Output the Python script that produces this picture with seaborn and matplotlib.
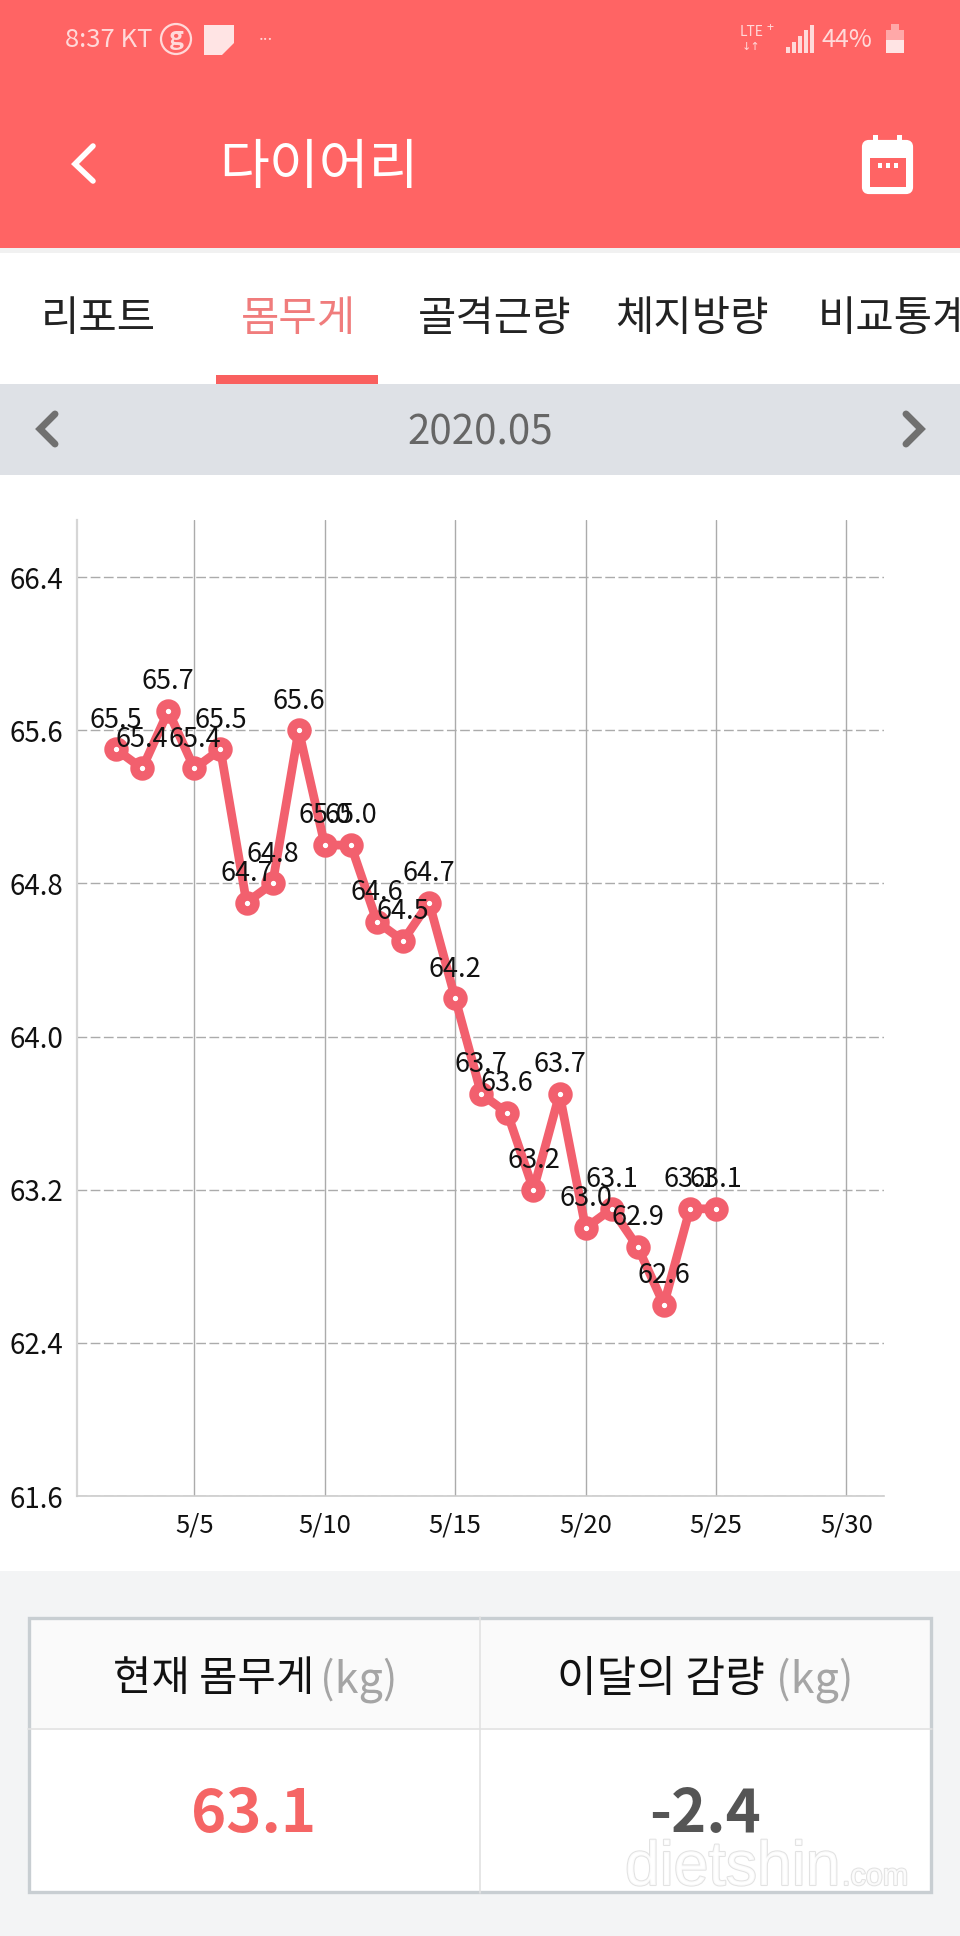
import matplotlib as mpl
mpl.use('Agg')
import matplotlib.pyplot as plt
import matplotlib.patheffects as pe
from matplotlib.patches import Rectangle, FancyBboxPatch, Circle, Polygon
import numpy as np
import pandas as pd
import seaborn as sns

# values
days = list(range(2, 26))
weights = [65.5, 65.4, 65.7, 65.4, 65.5, 64.7, 64.8, 65.6, 65.0, 65.0, 64.6, 64.5,
           64.7, 64.2, 63.7, 63.6, 63.2, 63.7, 63.0, 63.1, 62.9, 62.6, 63.1, 63.1]
y_ticks = [61.6, 62.4, 63.2, 64.0, 64.8, 65.6, 66.4]
x_ticks = [5, 10, 15, 20, 25, 30]
x_tick_labels = ['5/5', '5/10', '5/15', '5/20', '5/25', '5/30']
tabs = ['리포트', '몸무게', '골격근량', '체지방량', '비교통계']
tab_x = [98, 298, 495, 692, 818]

RED = '#FF6464'
LINE = '#F2606E'
W, H = 960, 1936

sns.set_theme(style='white')
plt.rcParams['font.family'] = ['Noto Sans CJK KR', 'DejaVu Sans']

fig = plt.figure(figsize=(W / 100, H / 100), dpi=100, facecolor='white')

# pixel canvas for the app screen around the chart
bg = fig.add_axes([0, 0, 1, 1], zorder=0)
bg.set_xlim(0, W)
bg.set_ylim(H, 0)
bg.axis('off')


def box(x0, y0, x1, y1, color, **kw):
    bg.add_patch(Rectangle((x0, y0), x1 - x0, y1 - y0, facecolor=color, edgecolor='none', **kw))


def chevron(xs, ys, color, lw):
    bg.plot(xs, ys, color=color, lw=lw, solid_capstyle='round', solid_joinstyle='miter')


# header
box(0, 0, W, 248, RED)
box(0, 248, W, 253, '#F1F1F1')
status = '#FFD9D9'
bg.text(65, 40, '8:37 KT', color=status, fontsize=18.5, va='center', ha='left')
bg.add_patch(Circle((176, 39), 15, facecolor='none', edgecolor=status, lw=1.6))
bg.text(176, 38, 'g', color=status, fontsize=18, va='center', ha='center', style='italic', fontweight='bold')
bg.add_patch(Polygon([(204, 25), (234, 25), (234, 43), (222, 55), (204, 55)], facecolor='#FFE4E4', edgecolor='none'))
bg.text(266, 36, '...', color=status, fontsize=12, va='center', ha='center')
bg.text(740, 32, 'LTE', color=status, fontsize=10, va='center', ha='left')
bg.text(770, 27, '+', color=status, fontsize=9, va='center', ha='center')
bg.text(751, 47, '↓↑', color=status, fontsize=8, va='center', ha='center', family='DejaVu Sans')
for i, top in enumerate([47, 42, 36, 30, 25]):
    box(786 + i * 6, top, 790 + i * 6, 53, status)
bg.text(822, 40, '44%', color=status, fontsize=18, va='center', ha='left')
box(886, 30, 904, 53, '#FFA8A8')
box(891, 24, 899, 30, '#FFA8A8')
box(886, 40, 904, 53, '#FFE4E4')

chevron([93, 75, 93], [146, 164, 181], 'white', 4)
bg.text(219, 169, '다이어리', color='white', fontsize=39, va='center', ha='left')
bg.add_patch(FancyBboxPatch((864, 142), 47, 50, boxstyle='round,pad=0,rounding_size=5', facecolor='white', edgecolor='white', lw=3))
box(870, 158, 906, 187, RED)
box(873, 135, 878, 146, 'white')
box(897, 135, 902, 146, 'white')
for cx in (880, 888, 896):
    box(cx - 2, 163, cx + 2, 168, 'white')

# tabs
for name, tx in zip(tabs, tab_x):
    on = name == '몸무게'
    bg.text(tx, 320, name, color='#F07C7C' if on else '#222222', fontsize=30, va='center',
            ha='left' if name == '비교통계' else 'center', clip_on=True)
box(216, 375, 378, 384, '#F9605F')

# month bar
box(0, 384, W, 475, '#DEE1E6')
chevron([55, 40, 55], [414, 429, 444], '#707070', 5)
chevron([906, 921, 906], [414, 429, 444], '#707070', 5)
bg.text(480, 433, '2020.05', color='#666666', fontsize=29, va='center', ha='center')

# summary table
box(0, 1571, W, H, '#F3F4F5')
box(28, 1617, 932, 1893, 'white')
box(28, 1617, 932, 1729, '#FAFAFA')
bg.plot([28, 932], [1729, 1729], color='#E2E2E2', lw=1.2)
bg.plot([480, 480], [1617, 1893], color='#E2E2E2', lw=1.2)
bg.add_patch(Rectangle((29, 1618), 902, 274, facecolor='none', edgecolor='#C8CED2', lw=2.4))
bg.text(113, 1680, '현재 몸무게', color='#111111', fontsize=30, va='center', ha='left')
bg.text(320, 1680, '(kg)', color='#A5A5A5', fontsize=31, va='center', ha='left')
bg.text(557, 1680, '이달의 감량', color='#111111', fontsize=31, va='center', ha='left')
bg.text(776, 1680, '(kg)', color='#A5A5A5', fontsize=31, va='center', ha='left')
bg.text(254, 1815, '63.1', color='#F56565', fontsize=43, fontweight='bold', va='center', ha='center')
bg.text(705, 1815, '-2.4', color='#555555', fontsize=43, fontweight='bold', va='center', ha='center')
halo = [pe.withStroke(linewidth=1.5, foreground='#DDDDDD')]
bg.text(625, 1885, 'dietshin', color='white', fontsize=45, family='Liberation Sans',
        va='baseline', ha='left', path_effects=halo, alpha=0.85, zorder=5)
bg.text(842, 1885, '.com', color='white', fontsize=22, family='Liberation Sans',
        va='baseline', ha='left', path_effects=halo, alpha=0.85, zorder=5)

# chart
ax = fig.add_axes([77 / W, 1 - 1496 / H, 807 / W, 976 / H], zorder=1)
ax.patch.set_visible(False)
df = pd.DataFrame({'day': days, 'weight': weights})
sns.lineplot(data=df, x='day', y='weight', ax=ax, color=LINE, lw=6.3, marker='o', ms=10.8,
             mfc='white', mec=LINE, mew=6.8, zorder=3, clip_on=False)

ax.set_xlim(0.5, 31.44)
ax.set_ylim(61.6, 66.698)
ax.set_xticks(x_ticks)
ax.set_xticklabels(x_tick_labels)
ax.set_yticks(y_ticks)
ax.set_yticklabels(['%.1f' % v for v in y_ticks])
ax.set_xlabel('')
ax.set_ylabel('')
ax.tick_params(axis='x', length=0, pad=12, labelsize=18.5, colors='#111111')
ax.tick_params(axis='y', length=0, pad=10, labelsize=20, colors='#111111')
ax.grid(axis='x', color='#ABABAB', lw=1)
ax.grid(axis='y', color='#ABABAB', lw=1, dashes=(7, 2.5))
ax.set_axisbelow(True)
sns.despine(ax=ax, top=True, right=True)
ax.spines['left'].set_color('#D6D6D6')
ax.spines['left'].set_linewidth(1.6)
ax.spines['bottom'].set_color('#CCCCCC')
ax.spines['bottom'].set_linewidth(1.2)

for d, v in zip(days, weights):
    ax.annotate('%.1f' % v, (d, v), xytext=(0, 21), textcoords='offset points', ha='center',
                va='center', fontsize=19.5, color='#111111', zorder=6)

fig.savefig('out.png', dpi=100)
